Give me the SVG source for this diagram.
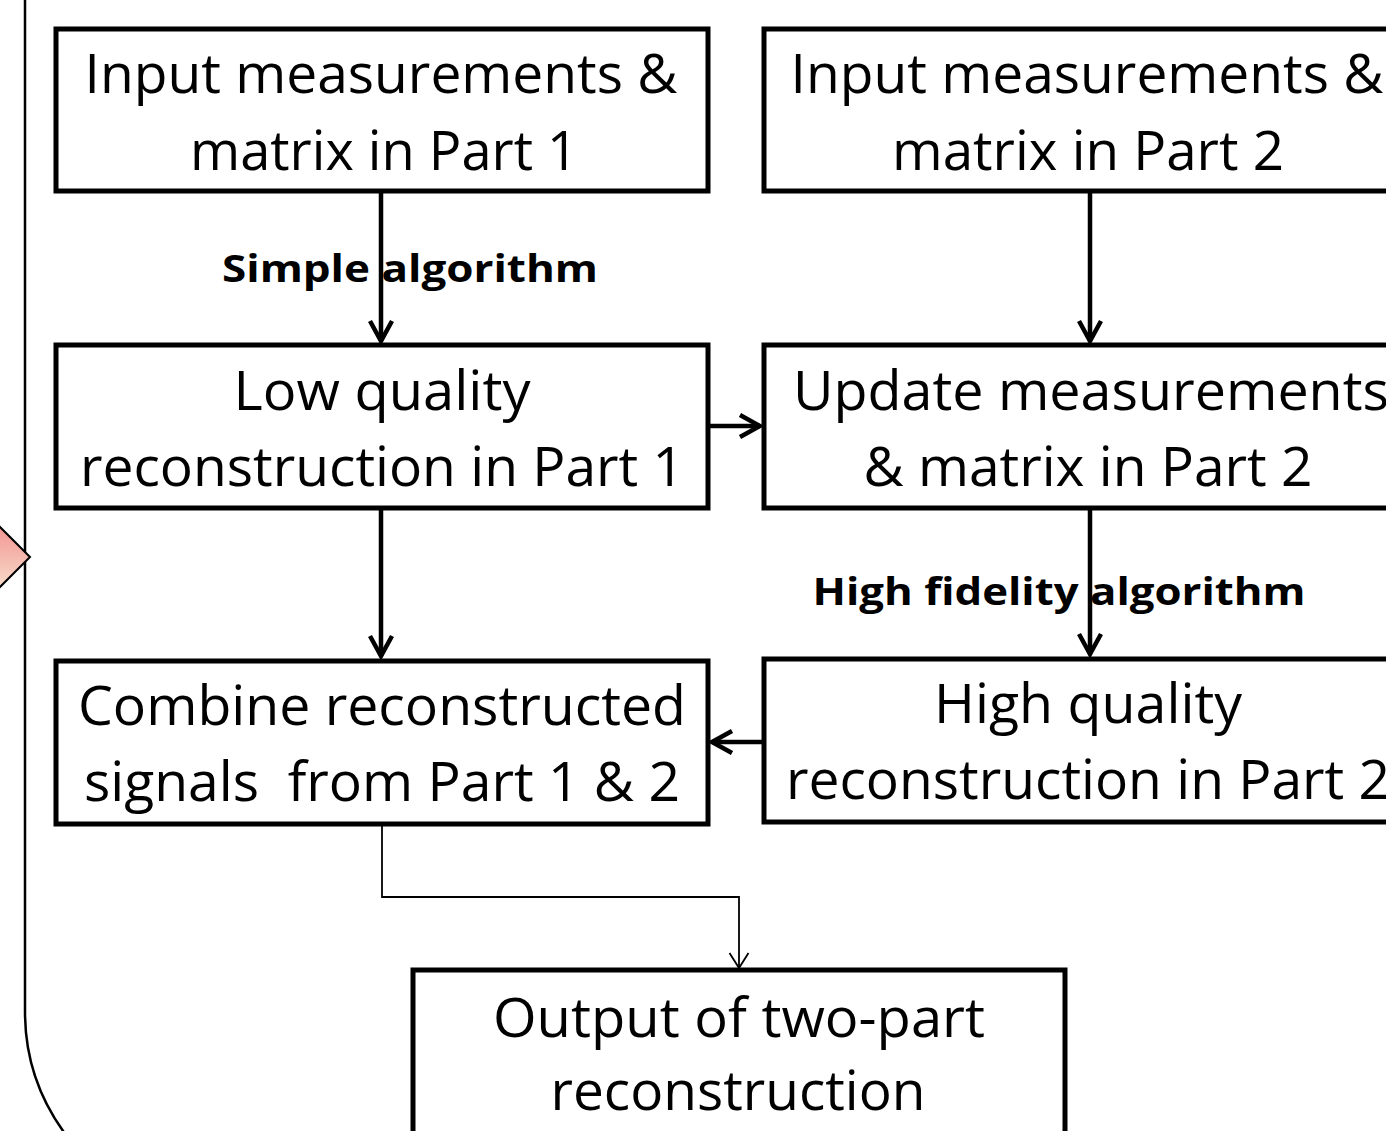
<svg xmlns="http://www.w3.org/2000/svg" width="1386" height="1131" viewBox="0 0 1386 1131">
<style>
.box{fill:#fff;stroke:#000;stroke-width:5}
.t{font-family:"Open Sans","Lato","Liberation Sans",sans-serif;font-size:55px;fill:#000;text-anchor:middle}
.b{font-family:"Open Sans","Lato","Liberation Sans",sans-serif;font-size:38px;font-weight:bold;fill:#000;text-anchor:middle}
.c{fill:none;stroke:#000;stroke-width:4.5}
.thin{fill:none;stroke:#000;stroke-width:1.8}
</style>
<defs>
<linearGradient id="pg" x1="0" y1="0" x2="0" y2="1">
<stop offset="0" stop-color="#f28b8b"/>
<stop offset="1" stop-color="#f8e6d2"/>
</linearGradient>
<marker id="ah" viewBox="-26 -16 32 32" refX="0" refY="0" markerWidth="32" markerHeight="32" markerUnits="userSpaceOnUse" orient="auto">
<path d="M-20,-11 L0,0 L-20,11" fill="none" stroke="#000" stroke-width="4.5"/>
</marker>
<marker id="ah2" viewBox="-20 -12 24 24" refX="0" refY="0" markerWidth="24" markerHeight="24" markerUnits="userSpaceOnUse" orient="auto">
<path d="M-15,-9.5 L0,0 L-15,9.5" fill="none" stroke="#000" stroke-width="1.8"/>
</marker>
</defs>
<rect width="1386" height="1131" fill="#fff"/>
<g id="container">
<path d="M25,-10 L25,1012 Q25,1080 66,1135" fill="none" stroke="#000" stroke-width="2.5"/>
</g>
<g id="pointer">
<polygon points="30,557 -10,517 -50,557 -10,597" fill="url(#pg)" stroke="#000" stroke-width="2"/>
</g>
<g id="connectors">
<line class="c" x1="381" y1="191" x2="381" y2="341" marker-end="url(#ah)"/>
<line class="c" x1="1090" y1="191" x2="1090" y2="341" marker-end="url(#ah)"/>
<line class="c" x1="708" y1="426" x2="760" y2="426" marker-end="url(#ah)"/>
<line class="c" x1="381" y1="508" x2="381" y2="656" marker-end="url(#ah)"/>
<line class="c" x1="1090" y1="508" x2="1090" y2="654" marker-end="url(#ah)"/>
<line class="c" x1="771" y1="742" x2="712" y2="742" marker-end="url(#ah)"/>
<polyline class="thin" points="382,824 382,897 739,897 739,968" marker-end="url(#ah2)"/>
<text class="b" x="410" y="282" textLength="376" lengthAdjust="spacingAndGlyphs">Simple algorithm</text>
<text class="b" x="1059" y="605" textLength="493" lengthAdjust="spacingAndGlyphs">High fidelity algorithm</text>
</g>
<g id="node-input1">
<rect class="box" x="56" y="29" width="652" height="162"/>
<text class="t" x="381" y="93" textLength="593" lengthAdjust="spacingAndGlyphs">Input measurements &amp;</text>
<text class="t" x="384" y="170" textLength="388" lengthAdjust="spacingAndGlyphs">matrix in Part 1</text>
</g>
<g id="node-input2">
<rect class="box" x="764" y="29" width="652" height="162"/>
<text class="t" x="1087" y="93" textLength="593" lengthAdjust="spacingAndGlyphs">Input measurements &amp;</text>
<text class="t" x="1088" y="170" textLength="392" lengthAdjust="spacingAndGlyphs">matrix in Part 2</text>
</g>
<g id="node-low">
<rect class="box" x="56" y="345" width="652" height="163"/>
<text class="t" x="382" y="410" textLength="297" lengthAdjust="spacingAndGlyphs">Low quality</text>
<text class="t" x="382" y="486" textLength="604" lengthAdjust="spacingAndGlyphs">reconstruction in Part 1</text>
</g>
<g id="node-update">
<rect class="box" x="764" y="345" width="652" height="163"/>
<text class="t" x="1091" y="410" textLength="596" lengthAdjust="spacingAndGlyphs">Update measurements</text>
<text class="t" x="1088" y="486" textLength="449" lengthAdjust="spacingAndGlyphs">&amp; matrix in Part 2</text>
</g>
<g id="node-combine">
<rect class="box" x="56" y="661" width="652" height="163"/>
<text class="t" x="382" y="725" textLength="608" lengthAdjust="spacingAndGlyphs">Combine reconstructed</text>
<text class="t" x="382" y="801" textLength="596" lengthAdjust="spacingAndGlyphs" xml:space="preserve">signals  from Part 1 &amp; 2</text>
</g>
<g id="node-high">
<rect class="box" x="764" y="659" width="652" height="163"/>
<text class="t" x="1088" y="723" textLength="308" lengthAdjust="spacingAndGlyphs">High quality</text>
<text class="t" x="1088" y="799" textLength="604" lengthAdjust="spacingAndGlyphs">reconstruction in Part 2</text>
</g>
<g id="node-output">
<rect class="box" x="413" y="970" width="652" height="180"/>
<text class="t" x="739" y="1037" textLength="492" lengthAdjust="spacingAndGlyphs">Output of two-part</text>
<text class="t" x="738" y="1110" textLength="375" lengthAdjust="spacingAndGlyphs">reconstruction</text>
</g>
</svg>
